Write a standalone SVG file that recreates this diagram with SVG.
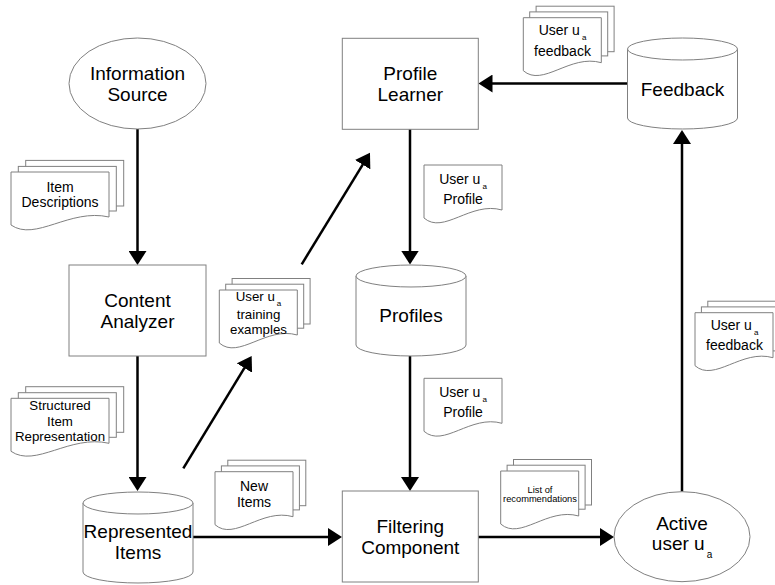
<svg xmlns="http://www.w3.org/2000/svg" xmlns:xlink="http://www.w3.org/1999/xlink" width="775" height="585" viewBox="0 0 775 585">
  <style>
    .shape { fill: #ffffff; stroke: #808080; stroke-width: 1; }
    .conn { fill: none; stroke: #000000; stroke-width: 2.5; marker-end: url(#arrow); }
    text { font-family: "Liberation Sans", Arial, sans-serif; fill: #000000; text-anchor: middle; }
    .lbl { font-size: 19px; }
    .doc { font-size: 14px; }
    .docS { font-size: 13.3px; }
    .small { font-size: 9.3px; }
    .sub { font-size: 8px; }
    .subL { font-size: 10px; }
  </style>
  <defs>
    <marker id="arrow" markerUnits="userSpaceOnUse" markerWidth="16" markerHeight="18" viewBox="0 0 16 18" refX="11" refY="9" orient="auto">
      <path d="M0,0 L14,9 L0,18 Z" fill="#000000"/>
    </marker>
    <!-- single document page, 78 wide -->
    <path id="page78" class="shape" d="M0,0 H78 V45 C46.8,36 19.5,70 0,53 Z"/>
    <!-- stacked pages, 78 wide -->
    <g id="stack78">
      <rect class="shape" x="12.8" y="-11.5" width="78" height="45.5"/>
      <rect class="shape" x="6.4" y="-5.8" width="78" height="44"/>
      <use xlink:href="#page78"/>
    </g>
    <!-- stacked pages, 98 wide -->
    <g id="stack98">
      <rect class="shape" x="14.7" y="-11.6" width="98" height="45.6"/>
      <rect class="shape" x="7.3" y="-5.6" width="98" height="44.6"/>
      <path class="shape" d="M0,0 H98 V45 C58.8,36 24.5,70 0,53 Z"/>
    </g>
    <!-- database cylinder -->
    <g id="cylinder">
      <path class="shape" d="M0,11 A55,11 0 0 1 110,11 V80 A55,11 0 0 1 0,80 Z"/>
      <path class="shape" fill="none" d="M0,11 A55,11 0 0 0 110,11"/>
    </g>
  </defs>

  <rect width="775" height="585" fill="#ffffff"/>

  <!-- connectors -->
  <g id="connectors">
    <line class="conn" x1="137.5" y1="129" x2="137.5" y2="262"/>
    <line class="conn" x1="137.5" y1="356" x2="137.5" y2="488"/>
    <line class="conn" x1="193" y1="537" x2="339" y2="537"/>
    <line class="conn" x1="478" y1="537" x2="611" y2="537"/>
    <line class="conn" x1="682" y1="491.5" x2="682" y2="133"/>
    <line class="conn" x1="627.5" y1="83.5" x2="481.5" y2="83.5"/>
    <line class="conn" x1="410" y1="129" x2="410" y2="261.5"/>
    <line class="conn" x1="410" y1="355" x2="410" y2="488"/>
    <line class="conn" x1="183.3" y1="468.3" x2="250.1" y2="358.6"/>
    <line class="conn" x1="301.7" y1="264.3" x2="368.4" y2="155.3"/>
  </g>

  <!-- nodes -->
  <g id="information-source">
    <ellipse class="shape" cx="137.5" cy="83.5" rx="68.5" ry="45.5"/>
    <text class="lbl" x="137.5" y="80">Information</text>
    <text class="lbl" x="137.5" y="101">Source</text>
  </g>

  <g id="content-analyzer">
    <rect class="shape" x="69" y="265" width="137" height="91"/>
    <text class="lbl" x="137.5" y="307">Content</text>
    <text class="lbl" x="137.5" y="328">Analyzer</text>
  </g>

  <g id="represented-items">
    <use xlink:href="#cylinder" transform="translate(83,492)"/>
    <text class="lbl" x="138" y="538">Represented</text>
    <text class="lbl" x="138" y="559">Items</text>
  </g>

  <g id="profile-learner">
    <rect class="shape" x="342.3" y="38.3" width="136" height="91"/>
    <text class="lbl" x="410.3" y="80">Profile</text>
    <text class="lbl" x="410.3" y="100.7">Learner</text>
  </g>

  <g id="profiles">
    <use xlink:href="#cylinder" transform="translate(356,265)"/>
    <text class="lbl" x="411" y="321.7">Profiles</text>
  </g>

  <g id="filtering-component">
    <rect class="shape" x="342.3" y="491" width="136" height="91"/>
    <text class="lbl" x="410.3" y="533">Filtering</text>
    <text class="lbl" x="410.3" y="554">Component</text>
  </g>

  <g id="feedback">
    <use xlink:href="#cylinder" transform="translate(627.5,38)"/>
    <text class="lbl" x="682.5" y="96">Feedback</text>
  </g>

  <g id="active-user">
    <ellipse class="shape" cx="682" cy="536.7" rx="68" ry="45"/>
    <text class="lbl" x="682" y="530">Active</text>
    <text class="lbl" x="682" y="550">user u<tspan class="subL" dx="2" dy="8">a</tspan></text>
  </g>

  <!-- document labels -->
  <g id="doc-item-descriptions">
    <use xlink:href="#stack98" transform="translate(11,172)"/>
    <text class="doc" x="60" y="191.7">Item</text>
    <text class="doc" x="60" y="206.7">Descriptions</text>
  </g>

  <g id="doc-structured-item">
    <use xlink:href="#stack98" transform="translate(11,398.3)"/>
    <text class="docS" x="60" y="410">Structured</text>
    <text class="docS" x="60" y="425.5">Item</text>
    <text class="docS" x="60" y="441">Representation</text>
  </g>

  <g id="doc-training-examples">
    <use xlink:href="#stack78" transform="translate(219.3,290)"/>
    <text class="docS" x="258.5" y="300.7">User u<tspan class="sub" dx="2" dy="5">a</tspan></text>
    <text class="docS" x="258.5" y="318.5">training</text>
    <text class="docS" x="258.5" y="333.5">examples</text>
  </g>

  <g id="doc-profile-upper">
    <use xlink:href="#page78" transform="translate(424,165)"/>
    <text class="doc" x="463" y="184">User u<tspan class="sub" dx="2" dy="5">a</tspan></text>
    <text class="doc" x="463" y="203.5">Profile</text>
  </g>

  <g id="doc-profile-lower">
    <use xlink:href="#page78" transform="translate(424,378.3)"/>
    <text class="doc" x="463" y="396.7">User u<tspan class="sub" dx="2" dy="5">a</tspan></text>
    <text class="doc" x="463" y="416.7">Profile</text>
  </g>

  <g id="doc-new-items">
    <use xlink:href="#stack78" transform="translate(215,471.7)"/>
    <text class="doc" x="254" y="490.7">New</text>
    <text class="doc" x="254" y="506.7">Items</text>
  </g>

  <g id="doc-recommendations">
    <use xlink:href="#stack78" transform="translate(500.7,471)"/>
    <text class="small" x="540" y="492.7">List of</text>
    <text class="small" x="540" y="502">recommendations</text>
  </g>

  <g id="doc-feedback-top">
    <use xlink:href="#stack78" transform="translate(523.3,17.7)"/>
    <text class="doc" x="562.5" y="35">User u<tspan class="sub" dx="2" dy="5">a</tspan></text>
    <text class="doc" x="562.5" y="56">feedback</text>
  </g>

  <g id="doc-feedback-right">
    <use xlink:href="#stack78" transform="translate(695,312.7)"/>
    <text class="doc" x="734.5" y="330">User u<tspan class="sub" dx="2" dy="5">a</tspan></text>
    <text class="doc" x="734.5" y="350">feedback</text>
  </g>
</svg>
